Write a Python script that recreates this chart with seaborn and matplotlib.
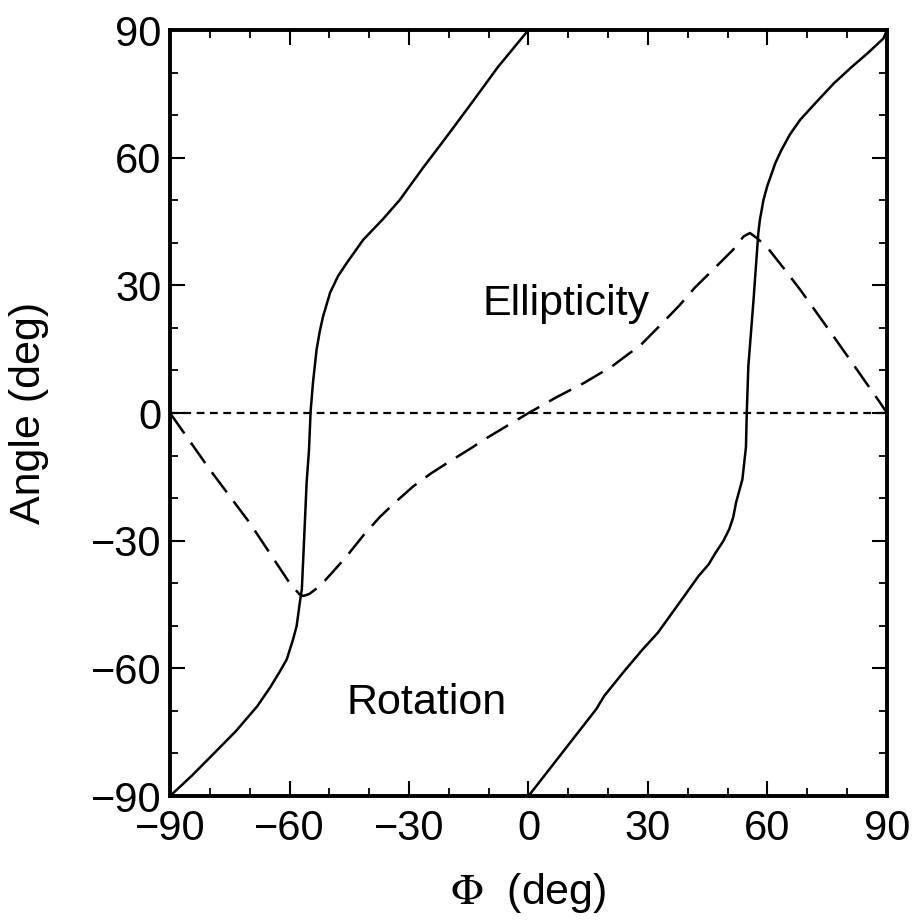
import matplotlib
matplotlib.use("Agg")
import matplotlib.pyplot as plt
from matplotlib.ticker import MultipleLocator
import seaborn as sns

# rotation, branch through the left transition
phi_rot1 = [-90, -84.5, -79.2, -73.5, -68.1, -64.8, -62.4, -60.7, -59.1, -58.2,
            -57.3, -56.9, -56.3, -55.7, -55.1, -54.7, -54.1, -53.2, -52.4,
            -51.6, -49.8, -47.8, -45.6, -41.5, -36.5, -32.3, -26.5, -20.5,
            -14, -7.6, 0]
rot1 = [-90, -85.2, -80.2, -74.8, -68.9, -64.4, -60.7, -57.9, -53.2, -50,
        -43.8, -41.4, -29, -16.3, -8.6, 0.4, 7.2, 14.9, 19.2,
        22.6, 28.3, 32.2, 35.3, 40.7, 45.6, 50.1, 57.6, 65,
        73.2, 81.4, 90]

# rotation, branch through the right transition
phi_rot2 = [0, 8.5, 17, 19, 24, 28.7, 32.5, 38.5, 42.7, 45.2, 47, 48.9, 50.4,
            51.4, 52.1, 53.7, 54.6, 54.8, 55.2, 56.5, 57.7, 58.1, 59.0, 60.0,
            60.8, 62.0, 63.5, 65.6, 68.2, 72.6, 76.6, 81.0, 85.2, 89.1, 90]
rot2 = [-90, -79.8, -69.6, -66.5, -60.7, -55.5, -51.6, -43.8, -38.3, -35.6,
        -32.8, -30.1, -27.3, -24.5, -21.1, -15.6, -8, 0, 11, 26.6, 42.3, 45.4,
        50.1, 53.5, 55.6, 58.8, 61.8, 65.4, 68.9, 73.4, 77.4, 81.2, 84.6, 88,
        90]

# ellipticity
phi_ell = [-90, -80, -70, -60, -57.5, -56.5, -55, -52.3, -49, -45.6, -41.5,
           -37.3, -33, -28.9, -24.5, -20, -15, -10, -5, 0, 7, 14, 21, 28.3,
           34, 38, 41.7, 47, 51.4, 54, 55.6, 57.2, 59.8, 64, 68.2, 76.6, 88.3,
           90]
ell = [0, -13.3, -25.8, -39.9, -42.6, -43.0, -42.5, -40.6, -37.2, -33.6,
       -28.8, -24.4, -20.6, -17.2, -14.2, -11.5, -8.6, -5.6, -2.8, 0, 3.7,
       7.1, 11, 16.1, 21.5, 25.4, 29.4, 34.3, 38.4, 41.5, 42.3, 41.2, 39.1,
       34.1, 29.0, 18.0, 2.4, 0]

phi_zero = [-90, 90]
zero = [0, 0]

ticks = [-90, -60, -30, 0, 30, 60, 90]

sns.set_theme(style="ticks")
plt.rcParams["font.family"] = ["Liberation Sans", "DejaVu Sans"]
plt.rcParams["mathtext.fontset"] = "stix"
plt.rcParams["text.color"] = "black"
plt.rcParams["axes.labelcolor"] = "black"

fig = plt.figure(figsize=(9.16, 9.24), dpi=100)
ax = fig.add_axes([0.1856, 0.1385, 0.7827, 0.829])

sns.lineplot(x=phi_rot1, y=rot1, ax=ax, color="black", lw=1.8, sort=False, estimator=None)
sns.lineplot(x=phi_rot2, y=rot2, ax=ax, color="black", lw=1.8, sort=False, estimator=None)
sns.lineplot(x=phi_ell, y=ell, ax=ax, color="black", lw=1.8, sort=False,
             estimator=None, linestyle=(0, (10, 4.5)))
sns.lineplot(x=phi_zero, y=zero, ax=ax, color="black", lw=1.6, sort=False,
             estimator=None, linestyle=(0, (3.5, 2.5)))

ax.set_xlim(-90, 90)
ax.set_ylim(-90, 90)
ax.set_xticks(ticks)
ax.set_yticks(ticks)
ax.xaxis.set_minor_locator(MultipleLocator(10))
ax.yaxis.set_minor_locator(MultipleLocator(10))
ax.tick_params(which="both", direction="in", top=True, right=True,
               color="black", labelcolor="black")
ax.tick_params(which="major", length=11, width=1.5, labelsize=30, pad=6)
ax.tick_params(which="minor", length=5.5, width=1.3)
ax.tick_params(axis="x", which="major", pad=9)
for s in ax.spines.values():
    s.set_linewidth(2.8)
    s.set_color("black")

ax.set_xlabel(r"$\Phi$  (deg)", fontsize=31, labelpad=16)
ax.set_ylabel("Angle (deg)", fontsize=31, labelpad=30)

ax.text(-11.5, 23.1, "Ellipticity", fontsize=31, ha="left", va="baseline")
ax.text(-45.8, -70.8, "Rotation", fontsize=31, ha="left", va="baseline")

fig.savefig("out.png", dpi=100)
